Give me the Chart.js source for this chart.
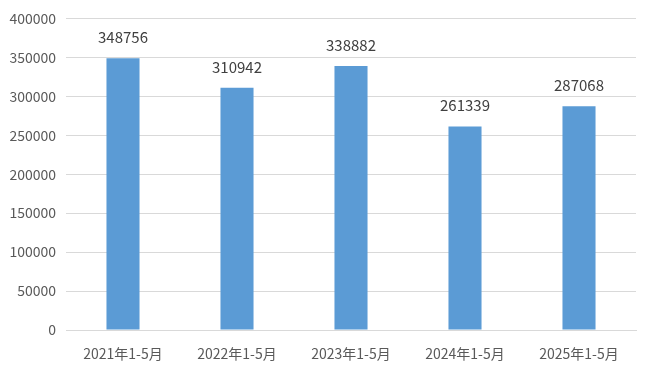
<!DOCTYPE html>
<html>
<head>
<meta charset="utf-8">
<script src="https://cdn.jsdelivr.net/npm/chart.js@4/dist/chart.umd.min.js"></script>
<style>
    html, body { margin: 0; padding: 0; background: #fff; }
    #wrap { width: 650px; height: 371px; position: relative; }
</style>
</head>
<body>
<div id="wrap"><canvas id="salesChart"></canvas></div>
<script>
    // Chart data
    const categories = ['2021年1-5月', '2022年1-5月', '2023年1-5月', '2024年1-5月', '2025年1-5月'];
    const values = [348756, 310942, 338882, 261339, 287068];
    const yTicks = [0, 50000, 100000, 150000, 200000, 250000, 300000, 350000, 400000];

    const fontFamily = "'Noto Sans CJK SC', 'Noto Sans', sans-serif";

    // Value labels above each bar
    const barLabels = {
        id: 'barLabels',
        afterDatasetsDraw(chart) {
            const ctx = chart.ctx;
            const meta = chart.getDatasetMeta(0);
            ctx.save();
            ctx.font = '15px ' + fontFamily;
            ctx.fillStyle = '#404040';
            ctx.textAlign = 'center';
            ctx.textBaseline = 'alphabetic';
            meta.data.forEach((bar, i) => {
                ctx.fillText(String(values[i]), bar.x, bar.y - 15);
            });
            ctx.restore();
        }
    };

    new Chart(document.getElementById('salesChart'), {
        type: 'bar',
        data: {
            labels: categories,
            datasets: [{
                data: values,
                backgroundColor: '#5b9bd5',
                borderWidth: 0,
                categoryPercentage: 1,
                barPercentage: 0.29
            }]
        },
        options: {
            responsive: true,
            maintainAspectRatio: false,
            animation: false,
            layout: {
                padding: { top: 16, right: 14, bottom: 0, left: 0 }
            },
            plugins: {
                legend: { display: false },
                tooltip: { enabled: false }
            },
            scales: {
                y: {
                    min: 0,
                    max: 400000,
                    afterBuildTicks: scale => {
                        scale.ticks = yTicks.map(v => ({ value: v }));
                    },
                    afterFit: scale => { scale.width = 66; },
                    border: { display: false },
                    grid: {
                        color: '#d9d9d9',
                        drawTicks: false
                    },
                    ticks: {
                        padding: 10,
                        color: '#595959',
                        font: { size: 14, family: fontFamily },
                        callback: v => String(v)
                    }
                },
                x: {
                    afterFit: scale => { scale.height = 41; },
                    border: { color: '#d9d9d9' },
                    grid: { display: false },
                    ticks: {
                        padding: 7,
                        color: '#595959',
                        maxRotation: 0,
                        font: { size: 14, family: fontFamily }
                    }
                }
            }
        },
        plugins: [barLabels]
    });
</script>
</body>
</html>
